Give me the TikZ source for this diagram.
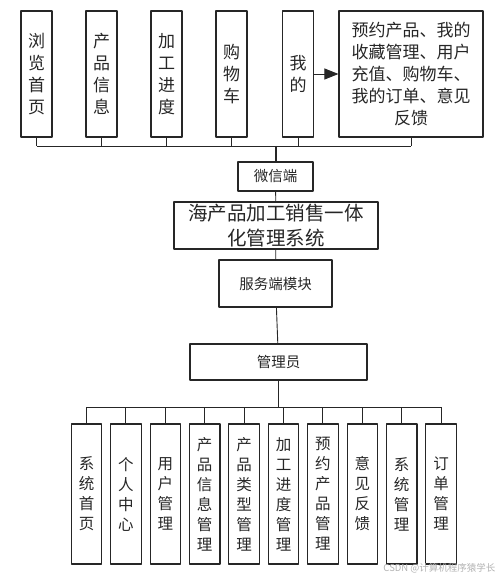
\documentclass[tikz,border=0pt]{standalone}
\usepackage{fontspec}
\newfontfamily\cjk{Noto Sans CJK SC}
\usetikzlibrary{arrows.meta}
\begin{document}
\begin{tikzpicture}[x=1pt, y=-1pt, font=\cjk, line join=round,
	box/.style={draw=black!85, line width=1.1pt, inner sep=0pt, align=center, text=black!85},
	ubox/.style={box, minimum width=31pt, minimum height=126pt, font=\cjk\fontsize{17}{22}\selectfont},
	lbox/.style={box, minimum width=30.5pt, minimum height=140pt, font=\cjk\fontsize{15.5}{20}\selectfont},
	mbox/.style={box, font=\cjk\fontsize{14.5}{18}\selectfont},
	conn/.style={draw=black!85, line width=0.9pt},
	trunk/.style={draw=black!85, line width=1.5pt}]
	\useasboundingbox (0,0) rectangle (502,580);
	% upper row
	\foreach \n/\x/\t in {u1/36.5/浏\\览\\首\\页, u2/101.5/产\\品\\信\\息, u3/166.5/加\\工\\进\\度, u4/231.5/购\\物\\车, u5/298/我\\的}
		\node[ubox] (\n) at (\x,74) {\t};
	\node[ubox, minimum width=144pt] (u6) at (411,74) {预约产品、我的\\收藏管理、用户\\充值、购物车、\\我的订单、意见\\反馈};
	\draw[conn, -{Triangle[length=14pt, width=11pt]}] (u5.east) -- (u6.west);
	\coordinate (ubus) at (276,146);
	\foreach \n in {u1,u2,u3,u4,u5,u6}
		\draw[conn] (\n.south) -- (\n.south |- ubus);
	\draw[conn] (u1.south |- ubus) -- (u6.south |- ubus);
	% middle column
	\node[mbox, minimum width=75pt, minimum height=29pt] (wx) at (275.5,176.5) {微信端};
	\node[box, minimum width=204pt, minimum height=47pt, font=\cjk\fontsize{19.5}{25}\selectfont] (sys) at (276,225.5) {海产品加工销售一体\\化管理系统};
	\node[mbox, minimum width=113pt, minimum height=47pt] (fw) at (275.5,283.5) {服务端模块};
	\node[mbox, minimum width=177pt, minimum height=36pt] (gly) at (278.5,362) {管理员};
	\draw[trunk] (ubus) -- (ubus |- wx.north);
	\draw[conn] (wx) -- (sys) (sys) -- (fw) (fw) -- (gly);
	% lower row
	\coordinate (lbus) at (278,407);
	\draw[trunk] (gly.south) -- (gly.south |- lbus);
	\foreach \t [count=\i from 0] in {系\\统\\首\\页, 个\\人\\中\\心, 用\\户\\管\\理, 产\\品\\信\\息\\管\\理, 产\\品\\类\\型\\管\\理, 加\\工\\进\\度\\管\\理, 预\\约\\产\\品\\管\\理, 意\\见\\反\\馈, 系\\统\\管\\理, 订\\单\\管\\理}{
		\node[lbox] (l\i) at (86.5+39.4*\i,494) {\t};
		\draw[conn] (l\i.north) -- (l\i.north |- lbus);}
	\draw[conn] (l0.north |- lbus) -- (l9.north |- lbus);
	\node[anchor=east, text=black!30, font=\cjk\fontsize{9.5}{11}\selectfont] (mark) at (499,568) {CSDN @计算机程序猿学长};
\end{tikzpicture}
\end{document}
